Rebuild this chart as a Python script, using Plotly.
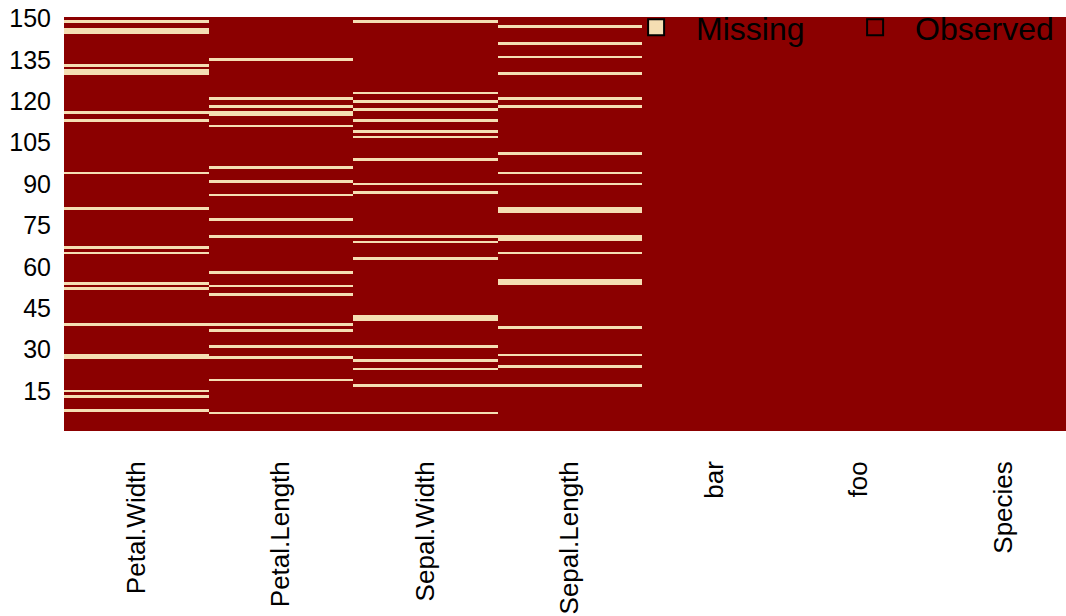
import plotly.graph_objects as go

columns = ["Petal.Width", "Petal.Length", "Sepal.Width", "Sepal.Length", "bar", "foo", "Species"]
n_rows = 150
missing_petal_width = [8, 13, 15, 27, 28, 39, 52, 54, 65, 67, 81, 94, 113, 116, 130, 131, 133, 145, 146, 149]
missing_petal_length = [7, 19, 27, 31, 37, 39, 50, 53, 58, 71, 77, 86, 91, 96, 111, 115, 116, 118, 121, 135]
missing_sepal_width = [7, 17, 23, 26, 31, 41, 42, 63, 69, 71, 87, 90, 99, 107, 109, 113, 117, 120, 123, 149]
missing_sepal_length = [17, 24, 28, 38, 54, 55, 65, 70, 71, 80, 81, 90, 94, 101, 118, 121, 130, 136, 141, 147]
missing_bar = []
missing_foo = []
missing_species = []
y_tick_values = [15, 30, 45, 60, 75, 90, 105, 120, 135, 150]
legend_labels = ["Missing", "Observed"]

missing_by_column = [missing_petal_width, missing_petal_length, missing_sepal_width,
                     missing_sepal_length, missing_bar, missing_foo, missing_species]

rows = list(range(1, n_rows + 1))
z = [[1 if r in miss else 0 for miss in missing_by_column] for r in rows]

MISSING_COLOR = "#F5DEB3"
OBSERVED_COLOR = "#8B0000"
FONT = "Liberation Sans, Arial, sans-serif"

fig = go.Figure()
fig.add_trace(go.Heatmap(
    z=z, x=columns, y=rows,
    zmin=0, zmax=1,
    colorscale=[[0, OBSERVED_COLOR], [0.5, OBSERVED_COLOR], [0.5, MISSING_COLOR], [1, MISSING_COLOR]],
    showscale=False, hoverinfo="skip", showlegend=False,
))
for name, col in zip(legend_labels, [MISSING_COLOR, OBSERVED_COLOR]):
    fig.add_trace(go.Scatter(
        x=[None], y=[None], mode="markers", name=name,
        marker=dict(symbol="square", size=22, color=col, line=dict(color="black", width=2)),
    ))

col_px = 144.5
plot_w = 1002
fig.update_layout(
    width=1066, height=616,
    margin=dict(l=64, r=0, t=16, b=185),
    paper_bgcolor="white", plot_bgcolor="white",
    font=dict(family=FONT, color="black"),
    showlegend=True,
    legend=dict(
        orientation="h", x=0.551, xanchor="left", y=0.9735, yanchor="middle",
        bgcolor="rgba(0,0,0,0)", font=dict(size=32, color="black"),
        itemwidth=70, entrywidth=134, entrywidthmode="pixels",
    ),
    xaxis=dict(
        range=[-0.5, -0.5 + plot_w / col_px], showgrid=False, zeroline=False,
        showline=False, ticks="", tickangle=-90, tickfont=dict(size=26),
        ticklabelstandoff=24, automargin=False,
    ),
    yaxis=dict(
        range=[0.5, n_rows + 0.5], showgrid=False, zeroline=False, showline=False,
        tickmode="array", tickvals=y_tick_values, ticktext=[str(v) for v in y_tick_values],
        ticks="", tickfont=dict(size=25), ticklabelstandoff=12, automargin=False,
    ),
)

# remove the default page margin so the figure fills the window exactly
fig.write_html("out.html", config={"displayModeBar": False},
               post_script="document.body.style.margin='0px';")
